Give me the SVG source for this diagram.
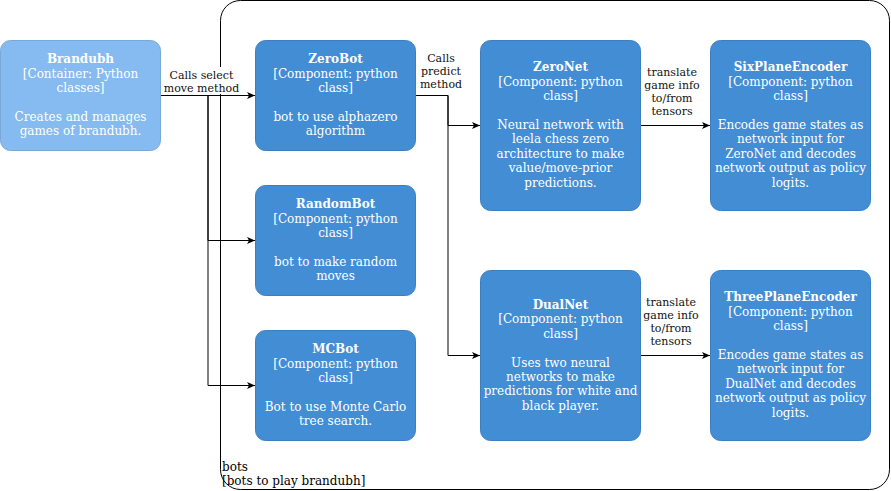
<svg xmlns="http://www.w3.org/2000/svg" width="891" height="491" viewBox="0 0 891 491">
<style>
.node{fill:#438DD5;stroke:#3C7FC0;stroke-width:1}
.ext{fill:#85BBF0;stroke:#78A8D8;stroke-width:1}
.t{font-family:"DejaVu Serif","Liberation Serif",serif;font-size:12px;fill:#FFFFFF;text-anchor:middle}
.b{font-weight:bold}
.lbl{font-family:"DejaVu Serif","Liberation Serif",serif;font-size:11px;fill:#111111;text-anchor:middle}
.edge{fill:none;stroke:#000000;stroke-width:1}
.cl{font-family:"DejaVu Serif","Liberation Serif",serif;font-size:12px;fill:#000000}
</style>
<defs>
<marker id="arr" markerWidth="10" markerHeight="8" refX="8" refY="3.5" orient="auto" markerUnits="userSpaceOnUse">
<path d="M0,0 L8,3.5 L0,7 L2,3.5 Z" fill="#000000"/>
</marker>
</defs>
<rect x="0" y="0" width="891" height="491" fill="#FFFFFF"/>
<g id="container-bots">
<rect x="220.5" y="0.5" width="669" height="489" rx="20" ry="20" fill="none" stroke="#000000" stroke-width="1"/>
<text class="cl" x="222" y="471">bots</text>
<text class="cl" x="222" y="485">[bots to play brandubh]</text>
</g>
<g id="connectors">
<path class="edge" d="M160,95.5 H255" marker-end="url(#arr)"/>
<path class="edge" d="M160,95.5 H208 V240.5 H255" marker-end="url(#arr)"/>
<path class="edge" d="M160,95.5 H208 V385.5 H255" marker-end="url(#arr)"/>
<path class="edge" d="M415,95.5 H448 V125.5 H480" marker-end="url(#arr)"/>
<path class="edge" d="M415,95.5 H448 V355.5 H480" marker-end="url(#arr)"/>
<path class="edge" d="M640,125.5 H710" marker-end="url(#arr)"/>
<path class="edge" d="M640,355.5 H710" marker-end="url(#arr)"/>
<rect x="164" y="67" width="76" height="27" fill="#FFFFFF"/>
<text class="lbl" x="201.5" y="79">Calls select</text>
<text class="lbl" x="201.5" y="91.5">move method</text>
<text class="lbl" x="441" y="62">Calls</text>
<text class="lbl" x="441" y="75">predict</text>
<text class="lbl" x="441" y="88">method</text>
<text class="lbl" x="672" y="76">translate</text>
<text class="lbl" x="672" y="89">game info</text>
<text class="lbl" x="672" y="102">to/from</text>
<text class="lbl" x="672" y="115">tensors</text>
<text class="lbl" x="671" y="306">translate</text>
<text class="lbl" x="671" y="319">game info</text>
<text class="lbl" x="671" y="332">to/from</text>
<text class="lbl" x="671" y="345">tensors</text>
</g>
<g id="brandubh">
<rect class="ext" x="0.5" y="40.5" width="160" height="110" rx="10" ry="10"/>
<text class="t b" x="80.5" y="63.3">Brandubh</text>
<text class="t" x="80.5" y="77.7">[Container: Python</text>
<text class="t" x="80.5" y="92.1">classes]</text>
<text class="t" x="80.5" y="120.9">Creates and manages</text>
<text class="t" x="80.5" y="135.3">games of brandubh.</text>
</g>
<g id="zerobot">
<rect class="node" x="255.5" y="40.5" width="160" height="110" rx="10" ry="10"/>
<text class="t b" x="335.5" y="63.3">ZeroBot</text>
<text class="t" x="335.5" y="77.7">[Component: python</text>
<text class="t" x="335.5" y="92.1">class]</text>
<text class="t" x="335.5" y="120.9">bot to use alphazero</text>
<text class="t" x="335.5" y="135.3">algorithm</text>
</g>
<g id="randombot">
<rect class="node" x="255.5" y="185.5" width="160" height="110" rx="10" ry="10"/>
<text class="t b" x="335.5" y="208.3">RandomBot</text>
<text class="t" x="335.5" y="222.7">[Component: python</text>
<text class="t" x="335.5" y="237.1">class]</text>
<text class="t" x="335.5" y="265.9">bot to make random</text>
<text class="t" x="335.5" y="280.3">moves</text>
</g>
<g id="mcbot">
<rect class="node" x="255.5" y="330.5" width="160" height="110" rx="10" ry="10"/>
<text class="t b" x="335.5" y="353.3">MCBot</text>
<text class="t" x="335.5" y="367.7">[Component: python</text>
<text class="t" x="335.5" y="382.1">class]</text>
<text class="t" x="335.5" y="410.9">Bot to use Monte Carlo</text>
<text class="t" x="335.5" y="425.3">tree search.</text>
</g>
<g id="zeronet">
<rect class="node" x="480.5" y="40.5" width="160" height="170" rx="10" ry="10"/>
<text class="t b" x="560.5" y="71.4">ZeroNet</text>
<text class="t" x="560.5" y="85.8">[Component: python</text>
<text class="t" x="560.5" y="100.2">class]</text>
<text class="t" x="560.5" y="129">Neural network with</text>
<text class="t" x="560.5" y="143.4">leela chess zero</text>
<text class="t" x="560.5" y="157.8">architecture to make</text>
<text class="t" x="560.5" y="172.2">value/move-prior</text>
<text class="t" x="560.5" y="186.6">predictions.</text>
</g>
<g id="dualnet">
<rect class="node" x="480.5" y="270.5" width="160" height="170" rx="10" ry="10"/>
<text class="t b" x="560.5" y="308.9">DualNet</text>
<text class="t" x="560.5" y="323.3">[Component: python</text>
<text class="t" x="560.5" y="337.7">class]</text>
<text class="t" x="560.5" y="366.5">Uses two neural</text>
<text class="t" x="560.5" y="380.9">networks to make</text>
<text class="t" x="560.5" y="395.3">predictions for white and</text>
<text class="t" x="560.5" y="409.7">black player.</text>
</g>
<g id="sixplaneencoder">
<rect class="node" x="710.5" y="40.5" width="160" height="170" rx="10" ry="10"/>
<text class="t b" x="790.5" y="71.4">SixPlaneEncoder</text>
<text class="t" x="790.5" y="85.8">[Component: python</text>
<text class="t" x="790.5" y="100.2">class]</text>
<text class="t" x="790.5" y="129">Encodes game states as</text>
<text class="t" x="790.5" y="143.4">network input for</text>
<text class="t" x="790.5" y="157.8">ZeroNet and decodes</text>
<text class="t" x="790.5" y="172.2">network output as policy</text>
<text class="t" x="790.5" y="186.6">logits.</text>
</g>
<g id="threeplaneencoder">
<rect class="node" x="710.5" y="270.5" width="160" height="170" rx="10" ry="10"/>
<text class="t b" x="790.5" y="301.4">ThreePlaneEncoder</text>
<text class="t" x="790.5" y="315.8">[Component: python</text>
<text class="t" x="790.5" y="330.2">class]</text>
<text class="t" x="790.5" y="359">Encodes game states as</text>
<text class="t" x="790.5" y="373.4">network input for</text>
<text class="t" x="790.5" y="387.8">DualNet and decodes</text>
<text class="t" x="790.5" y="402.2">network output as policy</text>
<text class="t" x="790.5" y="416.6">logits.</text>
</g>
</svg>
